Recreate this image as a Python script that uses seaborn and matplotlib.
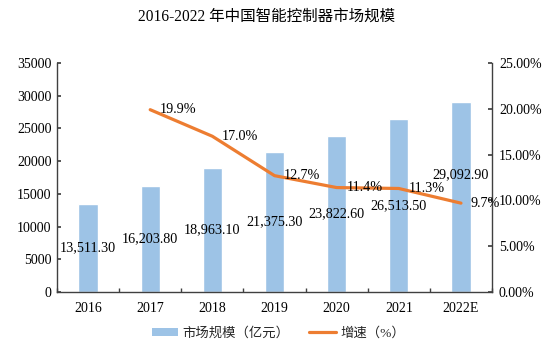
import numpy as np
import pandas as pd
import matplotlib
matplotlib.use("Agg")
import matplotlib.pyplot as plt
from matplotlib.patches import Patch
from matplotlib.lines import Line2D
import seaborn as sns

# Data
years = ["2016", "2017", "2018", "2019", "2020", "2021", "2022E"]
market_size = [13511.30, 16203.80, 18963.10, 21375.30, 23822.60, 26513.50, 29092.90]  # 亿元
growth = [np.nan, 19.9, 17.0, 12.7, 11.4, 11.3, 9.7]  # %
left_ticks = [0, 5000, 10000, 15000, 20000, 25000, 30000, 35000]
right_ticks = [0, 5, 10, 15, 20, 25]

sns.set_theme(style="white")
FONT = ["Liberation Serif", "Noto Sans CJK SC", "DejaVu Sans"]
plt.rcParams["font.family"] = FONT
plt.rcParams["axes.unicode_minus"] = False

BAR_COLOR = "#9DC3E6"
LINE_COLOR = "#ED7D31"
AXIS_COLOR = "#404040"

df = pd.DataFrame({"year": years, "size": market_size, "growth": growth})
df["pos"] = np.arange(len(years))

fig = plt.figure(figsize=(5.51, 3.47), dpi=100)
ax = fig.add_axes([0.1034, 0.1585, 0.7896, 0.66])

sns.barplot(data=df, x="year", y="size", color=BAR_COLOR, width=0.31,
            saturation=1, ax=ax, zorder=2)
ax.set_xlim(-0.5, len(years) - 0.5)
ax.set_ylim(0, 35000)
ax.set_yticks(left_ticks)
ax.set_yticklabels([str(v) for v in left_ticks])
ax.set_xlabel("")
ax.set_ylabel("")

ax2 = ax.twinx()
sns.lineplot(data=df.dropna(), x="pos", y="growth", color=LINE_COLOR,
             linewidth=2.3, ax=ax2, zorder=3)
ax2.set_ylim(0, 25)
ax2.set_yticks(right_ticks)
ax2.set_yticklabels([f"{v:.2f}%" for v in right_ticks])
ax2.set_xlim(-0.5, len(years) - 0.5)
ax2.set_xlabel("")
ax2.set_ylabel("")

# Axis styling: inward ticks, dark spines, no top spine
for a in (ax, ax2):
    a.spines["top"].set_visible(False)
    for s in ("left", "right", "bottom"):
        a.spines[s].set_color(AXIS_COLOR)
        a.spines[s].set_linewidth(1.0)
    a.grid(False)

ax.spines["right"].set_visible(False)
ax2.spines["left"].set_visible(False)
ax2.spines["bottom"].set_visible(False)

ax.tick_params(axis="y", direction="in", length=3, color=AXIS_COLOR,
               labelsize=10, pad=4, left=True, labelcolor="black")
ax2.tick_params(axis="y", direction="in", length=3, color=AXIS_COLOR,
                labelsize=10, pad=5, right=True, labelcolor="black")

# x ticks sit on category boundaries, labels at category centres
ax.set_xticks(np.arange(len(years)))
ax.set_xticklabels(years)
ax.tick_params(axis="x", which="major", length=0, labelsize=10, pad=7,
               labelcolor="black")
ax.set_xticks(np.arange(len(years) + 1) - 0.5, minor=True)
ax.tick_params(axis="x", which="minor", direction="in", length=3,
               color=AXIS_COLOR, bottom=True)

for lbl in ax.get_xticklabels() + ax.get_yticklabels() + ax2.get_yticklabels():
    lbl.set_fontfamily(FONT)

# Bar value labels at the middle of each bar
for i, (p, v) in enumerate(zip(df["pos"], df["size"])):
    dy = 16 if i == len(years) - 1 else 0
    ax.annotate(f"{v:,.2f}", xy=(p, v / 2), xytext=(0, dy),
                textcoords="offset points", ha="center", va="center",
                fontsize=10.2, color="black", zorder=5)

# Growth labels to the right of each point
for p, g in zip(df["pos"], df["growth"]):
    if np.isnan(g):
        continue
    ax2.annotate(f"{g:.1f}%", xy=(p, g), xytext=(7, 0),
                 textcoords="offset points", ha="left", va="center",
                 fontsize=10.2, color="black", zorder=5)

fig.suptitle("2016-2022 年中国智能控制器市场规模", x=0.483, y=0.975,
             fontsize=11.2, color="black")

handles = [Patch(facecolor=BAR_COLOR, edgecolor="none"),
           Line2D([0], [0], color=LINE_COLOR, linewidth=2.3)]
fig.legend(handles, ["市场规模（亿元）", "增速（%）"], loc="center",
           bbox_to_anchor=(0.505, 0.04), ncol=2, frameon=False,
           fontsize=9.6, handlelength=2.0, handleheight=0.6,
           handletextpad=0.3, columnspacing=1.5)

fig.savefig("out.png", dpi=100)
